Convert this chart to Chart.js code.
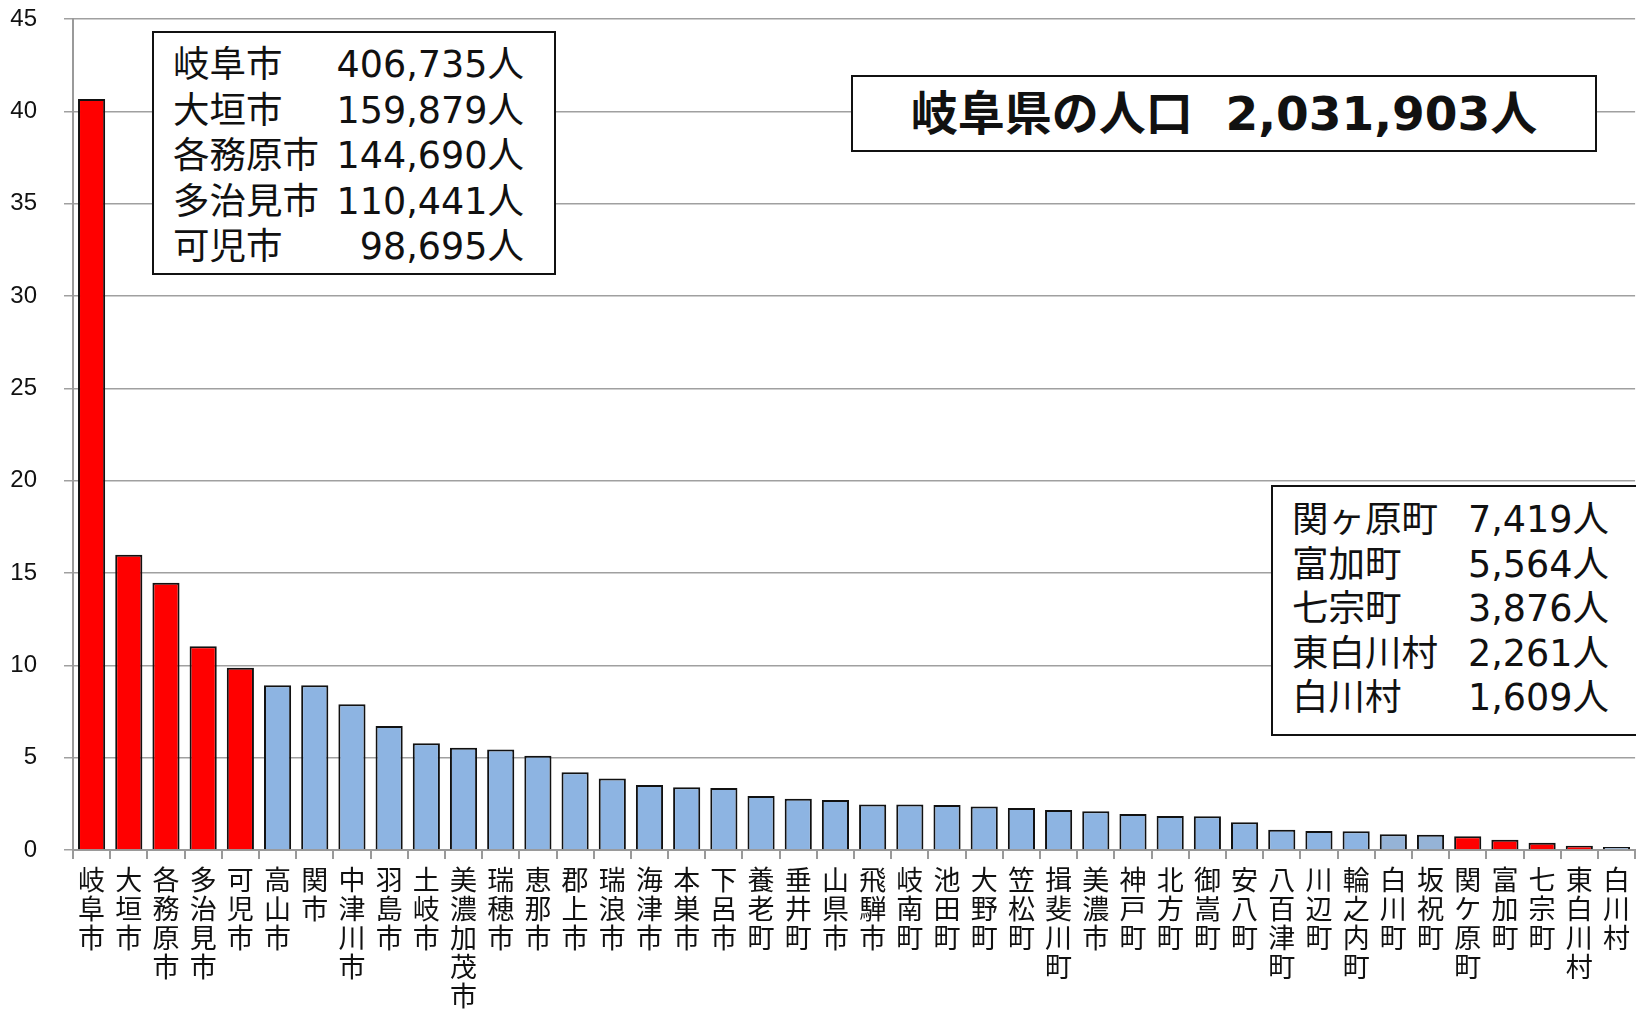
<!DOCTYPE html>
<html lang="ja">
<head>
<meta charset="utf-8">
<script src="https://cdn.jsdelivr.net/npm/chart.js@4.4.1/dist/chart.umd.min.js"></script>
<style>
  html, body { margin: 0; padding: 0; background: #fff; }
  body { width: 1636px; height: 1010px; overflow: hidden; position: relative; }
  #chart { position: absolute; left: 0; top: 0; }
  .box {
    position: absolute; background: #fff; border: 2px solid #111; box-sizing: border-box;
    font-family: "DejaVu Sans", "Noto Sans CJK JP", sans-serif; color: #111;
  }
  .rows { display: grid; grid-template-columns: auto 1fr; }
  .rows span:nth-child(even) { text-align: right; }
  #bigBox { left: 152px; top: 31px; width: 404px; height: 244px; padding: 9px 0 0 19px; font-size: 36.5px; }
  #bigBox .rows { width: 351px; line-height: 45.5px; }
  #smallBox { left: 1271px; top: 485px; width: 400px; height: 251px; padding: 11px 0 0 19px; font-size: 36.5px; }
  #smallBox .rows { width: 317px; line-height: 44.5px; }
  #titleBox {
    left: 851px; top: 75px; width: 746px; height: 77px; text-align: center;
    font-weight: bold; font-size: 47px; line-height: 73px; white-space: pre;
  }
</style>
</head>
<body>
<canvas id="chart" width="1636" height="1010"></canvas>
<div class="box" id="titleBox"></div>
<div class="box" id="bigBox"><div class="rows"></div></div>
<div class="box" id="smallBox"><div class="rows"></div></div>
<script>
// 市町村名（人口の多い順）
const towns = ['岐阜市', '大垣市', '各務原市', '多治見市', '可児市', '高山市', '関市', '中津川市', '羽島市', '土岐市',
  '美濃加茂市', '瑞穂市', '恵那市', '郡上市', '瑞浪市', '海津市', '本巣市', '下呂市', '養老町', '垂井町',
  '山県市', '飛騨市', '岐南町', '池田町', '大野町', '笠松町', '揖斐川町', '美濃市', '神戸町', '北方町',
  '御嵩町', '安八町', '八百津町', '川辺町', '輪之内町', '白川町', '坂祝町', '関ケ原町', '富加町', '七宗町',
  '東白川村', '白川村'];

// 人口（万人）
const population = [40.67, 15.99, 14.47, 11.04, 9.87, 8.92, 8.92, 7.89, 6.72, 5.78,
  5.54, 5.44, 5.11, 4.21, 3.87, 3.52, 3.40, 3.36, 2.92, 2.77,
  2.71, 2.47, 2.46, 2.44, 2.36, 2.28, 2.16, 2.10, 1.95, 1.84,
  1.83, 1.50, 1.10, 1.03, 1.01, 0.85, 0.82, 0.74, 0.56, 0.39,
  0.23, 0.16];

// 赤で示す市町村
const highlighted = ['岐阜市', '大垣市', '各務原市', '多治見市', '可児市', '関ケ原町', '富加町', '七宗町', '東白川村'];
// やや灰色がかった青の市町村
const greyish = ['白川町', '坂祝町', '白川村'];

const yTicks = [0, 5, 10, 15, 20, 25, 30, 35, 40, 45];

// 枠内の表示
const title = '岐阜県の人口  2,031,903人';
const topNames = ['岐阜市', '大垣市', '各務原市', '多治見市', '可児市'];
const topCounts = ['406,735人', '159,879人', '144,690人', '110,441人', '98,695人'];
const bottomNames = ['関ヶ原町', '富加町', '七宗町', '東白川村', '白川村'];
const bottomCounts = ['7,419人', '5,564人', '3,876人', '2,261人', '1,609人'];

function fillRows(el, names, counts) {
  names.forEach((n, i) => {
    const a = document.createElement('span');
    a.textContent = n;
    const b = document.createElement('span');
    b.textContent = counts[i];
    el.appendChild(a);
    el.appendChild(b);
  });
}
document.getElementById('titleBox').textContent = title;
fillRows(document.querySelector('#bigBox .rows'), topNames, topCounts);
fillRows(document.querySelector('#smallBox .rows'), bottomNames, bottomCounts);

const colors = towns.map(t => highlighted.includes(t) ? '#ff0000' : (greyish.includes(t) ? '#95b3d7' : '#8db4e2'));

new Chart(document.getElementById('chart'), {
  type: 'bar',
  data: {
    labels: towns,
    datasets: [{
      data: population,
      backgroundColor: colors,
      borderColor: '#111',
      borderWidth: 2,
      barPercentage: 0.73,
      categoryPercentage: 1,
    }],
  },
  options: {
    responsive: false,
    animation: false,
    devicePixelRatio: 1,
    layout: { padding: 0 },
    plugins: { legend: { display: false }, tooltip: { enabled: false } },
    scales: {
      x: {
        grid: { drawOnChartArea: false, drawTicks: true, tickLength: 9, color: '#9a9a9a', lineWidth: 2 },
        border: { color: '#9a9a9a', width: 2 },
        ticks: {
          autoSkip: false, maxRotation: 0, minRotation: 0, padding: 6, color: '#111',
          font: { family: '"Noto Sans CJK JP", sans-serif', size: 27, lineHeight: 1.08 },
          callback: function (value) { return this.getLabelForValue(value).split(''); },
        },
        afterFit: scale => { scale.height = 160; },
      },
      y: {
        min: 0, max: 45,
        afterBuildTicks: scale => { scale.ticks = yTicks.map(v => ({ value: v })); },
        grid: { color: '#a0a0a0', lineWidth: 1.5, tickLength: 9 },
        border: { color: '#9a9a9a', width: 2 },
        ticks: { padding: 27, color: '#111', font: { family: '"Liberation Sans", Arial, sans-serif', size: 24 } },
        afterFit: scale => {
          scale.width = 73;
          scale.paddingTop = 19;
          scale.paddingBottom = 0;
        },
      },
    },
  },
});
</script>
</body>
</html>
